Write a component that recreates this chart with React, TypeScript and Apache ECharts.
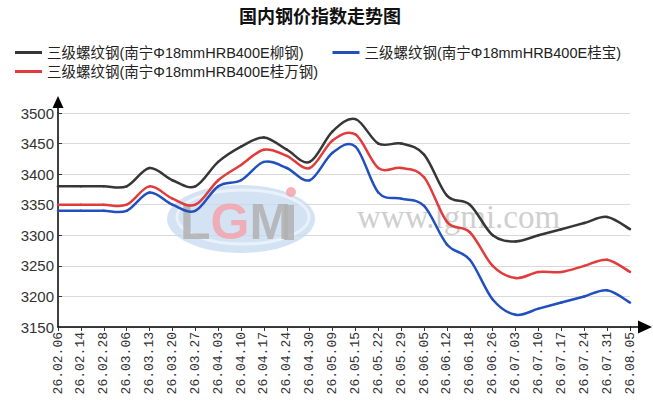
import React, { useEffect, useRef } from "react";
import * as echarts from "echarts";

const CATEGORIES = [
  "26.02.06", "26.02.14", "26.02.28", "26.03.06", "26.03.13", "26.03.20", "26.03.27",
  "26.04.03", "26.04.10", "26.04.17", "26.04.24", "26.04.30", "26.05.09", "26.05.15",
  "26.05.22", "26.05.29", "26.06.05", "26.06.12", "26.06.18", "26.06.26", "26.07.03",
  "26.07.10", "26.07.17", "26.07.24", "26.07.31", "26.08.05",
];

const NAME_LIU = "三级螺纹钢(南宁Φ18mmHRB400E柳钢)";
const NAME_BAO = "三级螺纹钢(南宁Φ18mmHRB400E桂宝)";
const NAME_WAN = "三级螺纹钢(南宁Φ18mmHRB400E桂万钢)";

const LIU = [3380, 3380, 3380, 3380, 3410, 3390, 3380, 3420, 3445, 3460, 3440, 3420, 3470, 3490, 3450, 3450, 3432, 3365, 3350, 3300, 3290, 3300, 3310, 3320, 3330, 3310];
const BAO = [3340, 3340, 3340, 3340, 3370, 3350, 3340, 3380, 3390, 3420, 3410, 3390, 3435, 3445, 3370, 3360, 3348, 3285, 3260, 3195, 3170, 3180, 3190, 3200, 3210, 3190];
const WAN = [3350, 3350, 3350, 3350, 3380, 3360, 3350, 3390, 3415, 3440, 3430, 3410, 3455, 3465, 3410, 3410, 3395, 3322, 3305, 3250, 3230, 3240, 3240, 3250, 3260, 3240];

const Y_MIN = 3150;
const Y_MAX = 3500;
const Y_STEP = 50;

function splineSeries(name: string, values: number[], color: string) {
  const n = values.length;
  return {
    name,
    type: "custom",
    data: values.map((v, i) => [i, v]),
    encode: { x: 0, y: 1 },
    itemStyle: { color },
    z: 5,
    clip: false,
    renderItem: (params: any, api: any) => {
      const idx = params.dataIndex;
      if (idx >= n - 1) return { type: "group", children: [] };
      const pt = (k: number) => api.coord([k, values[k]]);
      const p0 = pt(Math.max(idx - 1, 0));
      const p1 = pt(idx);
      const p2 = pt(idx + 1);
      const p3 = pt(Math.min(idx + 2, n - 1));
      const t = 1 / 6;
      return {
        type: "bezierCurve",
        shape: {
          x1: p1[0],
          y1: p1[1],
          x2: p2[0],
          y2: p2[1],
          cpx1: p1[0] + (p2[0] - p0[0]) * t,
          cpy1: p1[1] + (p2[1] - p0[1]) * t,
          cpx2: p2[0] - (p3[0] - p1[0]) * t,
          cpy2: p2[1] - (p3[1] - p1[1]) * t,
        },
        style: { stroke: color, lineWidth: 2.5, fill: "none", lineCap: "round" },
        silent: true,
      };
    },
  };
}

export default function App() {
  const ref = useRef<HTMLDivElement>(null);

  useEffect(() => {
    if (!ref.current) return;
    const chart = echarts.init(ref.current, null, { renderer: "svg" });
    const legendText = {
      fontSize: 14.5,
      color: "#222",
      fontFamily: "Liberation Sans, Noto Sans CJK SC, sans-serif",
      lineHeight: 17,
    };
    const gridLeft = 58;
    const gridTop = 113;
    const gridRight = 23;
    const gridBottom = 79;
    const axisY = 406 - gridBottom;
    const axisEndX = 653 - gridRight;

    chart.setOption({
      animation: false,
      backgroundColor: "#fff",
      title: {
        text: "国内钢价指数走势图",
        left: 239,
        top: 6,
        padding: 0,
        textStyle: {
          fontSize: 18,
          fontWeight: "bold",
          color: "#111",
          fontFamily: "Noto Sans CJK SC, sans-serif",
        },
      },
      legend: [
        {
          left: 15,
          top: 44,
          padding: 0,
          icon: "rect",
          itemWidth: 27,
          itemHeight: 3,
          itemGap: 29,
          data: [NAME_LIU, NAME_BAO],
          textStyle: legendText,
        },
        {
          left: 15,
          top: 63,
          padding: 0,
          icon: "rect",
          itemWidth: 27,
          itemHeight: 3,
          data: [NAME_WAN],
          textStyle: legendText,
        },
      ],
      grid: { left: gridLeft, top: gridTop, right: gridRight, bottom: gridBottom, containLabel: false },
      xAxis: {
        type: "category",
        data: CATEGORIES,
        boundaryGap: false,
        axisLine: { show: true, lineStyle: { color: "#000", width: 1.5 } },
        axisTick: { show: true, length: 4, interval: 0, lineStyle: { color: "#333" } },
        axisLabel: {
          rotate: 90,
          interval: 0,
          fontSize: 13,
          fontFamily: "Liberation Mono, monospace",
          color: "#333",
          margin: 5,
        },
        splitLine: { show: false },
      },
      yAxis: {
        type: "value",
        min: Y_MIN,
        max: Y_MAX,
        interval: Y_STEP,
        axisLine: { show: true, lineStyle: { color: "#000", width: 1.5 } },
        axisTick: { show: true, inside: true, length: 4, lineStyle: { color: "#333" } },
        axisLabel: {
          fontSize: 15,
          fontFamily: "Liberation Sans, Arial, sans-serif",
          color: "#333",
          margin: 4,
          formatter: (v: number) => String(v),
        },
        splitLine: { show: true, lineStyle: { color: "#d9d9d9", width: 1 } },
      },
      graphic: [
        // watermark
        {
          type: "ellipse",
          z: 1,
          shape: { cx: 241, cy: 219, rx: 74, ry: 34 },
          style: { fill: "#c6daf0", opacity: 0.75 },
          silent: true,
        },
        {
          type: "ellipse",
          z: 1,
          shape: { cx: 243, cy: 217, rx: 66, ry: 27 },
          style: { fill: "none", stroke: "#eef4fb", lineWidth: 3, opacity: 0.8 },
          silent: true,
        },
        {
          type: "text",
          z: 1,
          silent: true,
          style: {
            text: "{g|L}{r|G}{g|M}",
            x: 180,
            y: 222,
            verticalAlign: "middle",
            rich: {
              g: { font: "bold 50px Liberation Sans", fill: "#b0b0b0", opacity: 0.85 },
              r: { font: "bold 50px Liberation Sans", fill: "#f2a3ab", opacity: 0.85 },
            },
          },
        },
        {
          type: "rect",
          z: 1,
          silent: true,
          shape: { x: 284, y: 205, width: 10, height: 35 },
          style: { fill: "#b0b0b0", opacity: 0.85 },
        },
        {
          type: "circle",
          z: 1,
          silent: true,
          shape: { cx: 291, cy: 192, r: 5 },
          style: { fill: "#f4a3ab", opacity: 0.85 },
        },
        {
          type: "text",
          z: 1,
          silent: true,
          style: { text: "www.lgmi.com", x: 357, y: 233, verticalAlign: "bottom", font: "33px Liberation Serif", fill: "#cfcfcf" },
        },
        // axis arrows
        {
          type: "line",
          z: 10,
          silent: true,
          shape: { x1: gridLeft, y1: gridTop, x2: gridLeft, y2: 106 },
          style: { stroke: "#000", lineWidth: 1.5 },
        },
        {
          type: "polygon",
          z: 10,
          silent: true,
          shape: { points: [[gridLeft, 96], [gridLeft - 5.5, 108], [gridLeft + 5.5, 108]] },
          style: { fill: "#000" },
        },
        {
          type: "line",
          z: 10,
          silent: true,
          shape: { x1: axisEndX, y1: axisY, x2: 640, y2: axisY },
          style: { stroke: "#000", lineWidth: 1.5 },
        },
        {
          type: "polygon",
          z: 10,
          silent: true,
          shape: { points: [[652, axisY], [638, axisY - 6.5], [638, axisY + 6.5]] },
          style: { fill: "#000" },
        },
      ],
      series: [
        splineSeries(NAME_LIU, LIU, "#363636"),
        splineSeries(NAME_BAO, BAO, "#2150be"),
        splineSeries(NAME_WAN, WAN, "#e23b3b"),
      ],
    });
    return () => chart.dispose();
  }, []);

  return (
    <div
      ref={ref}
      style={{ position: "fixed", left: 0, top: 0, width: 653, height: 406, background: "#fff" }}
    />
  );
}
